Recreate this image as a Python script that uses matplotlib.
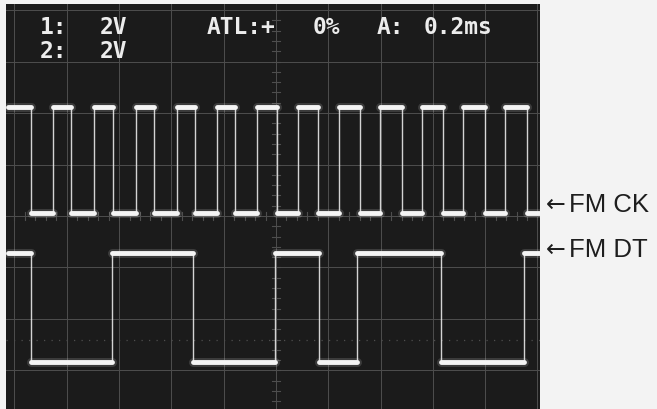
import matplotlib
matplotlib.use('Agg')
import matplotlib.pyplot as plt
import numpy as np

OUTPUT_FILENAME = 'out.png'

# time in ms from the left graticule line (0.2 ms/div), levels in divisions from centre
ck_rises = [0.147, 0.304, 0.465, 0.621, 0.774, 0.927, 1.084, 1.241, 1.398, 1.558, 1.715, 1.876]
ck_falls = [0.063, 0.216, 0.377, 0.533, 0.690, 0.843, 1.004, 1.161, 1.321, 1.482, 1.639, 1.799, 1.960]
ck_high = 2.12
ck_low = 0.06

dt_edges = [0.063, 0.373, 0.683, 0.996, 1.164, 1.310, 1.631, 1.948]
dt_high = -0.72
dt_low = -2.83

trace_start = -0.025
trace_end = 2.009

header_texts = ['1:', '2V', '2:', '2V', 'ATL:+', '0%', 'A:', '0.2ms']
labels = ['FM CK', 'FM DT']

FIG_W, FIG_H = 657, 410
BG = '#f3f3f3'
SCREEN = '#1b1b1b'
GRID = '#4e4e4e'
TRACE = '#f4f4f4'


def ck_segments():
    edges = sorted([(t, 'r') for t in ck_rises] + [(t, 'f') for t in ck_falls])
    level = ck_high
    t0 = trace_start
    segs = []
    for t, kind in edges:
        segs.append((t0, t, level))
        level = ck_low if kind == 'f' else ck_high
        t0 = t
    segs.append((t0, trace_end, level))
    return segs


def dt_segments():
    level = dt_high
    t0 = trace_start
    segs = []
    for t in dt_edges:
        segs.append((t0, t, level))
        level = dt_low if level == dt_high else dt_high
        t0 = t
    segs.append((t0, trace_end, level))
    return segs


def draw_trace(ax, segs):
    for i, (a, b, lv) in enumerate(segs):
        ax.plot([a, b], [lv, lv], color=TRACE, lw=6.5, alpha=0.15, solid_capstyle='round', zorder=3)
        ax.plot([a, b], [lv, lv], color=TRACE, lw=3.5, solid_capstyle='round', zorder=4)
        if i + 1 < len(segs):
            nxt = segs[i + 1][2]
            ax.plot([b, b], [lv, nxt], color=TRACE, lw=1.0, alpha=0.85, zorder=4)


def draw_graticule(ax):
    for t in np.arange(0, 2.01, 0.2):
        ax.axvline(t, color=GRID, lw=0.7, zorder=1)
    for d in range(-3, 5):
        ax.axhline(d, color=GRID, lw=0.7, zorder=1)
    ax.axhline(-2.4, color=GRID, lw=0.9, ls=(0, (1, 5)), zorder=1)
    # minor ticks on the centre lines
    for d in np.arange(-3.8, 4.2, 0.2):
        ax.plot([0.985, 1.015], [d, d], color=GRID, lw=0.8, zorder=1)
    for t in np.arange(0, 2.01, 0.04):
        ax.plot([t, t], [-0.07, 0.07], color=GRID, lw=0.8, zorder=1)


def main():
    fig = plt.figure(figsize=(FIG_W / 100, FIG_H / 100), dpi=100, facecolor=BG)
    ax = fig.add_axes([6 / FIG_W, 0, 534 / FIG_W, 405 / FIG_H])
    ax.set_facecolor(SCREEN)
    ax.set_xlim(-0.0325, 2.0096)
    ax.set_ylim(-3.748, 4.117)
    ax.set_xticks([])
    ax.set_yticks([])
    for s in ax.spines.values():
        s.set_visible(False)

    draw_graticule(ax)
    draw_trace(ax, ck_segments())
    draw_trace(ax, dt_segments())

    # header readout, pixel positions from the screen photo
    pos = [(40, 27), (100, 27), (40, 52), (100, 52), (207, 27), (313, 27), (377, 27), (424, 27)]
    for txt, (px, py) in zip(header_texts, pos):
        fig.text(px / FIG_W, 1 - py / FIG_H, txt, family='DejaVu Sans Mono', fontsize=16.5,
                 fontweight='bold', color='#ececec', va='center', ha='left')

    for txt, py in zip(labels, [205, 250]):
        fig.text(546 / FIG_W, 1 - py / FIG_H, '←', family='DejaVu Sans',
                 fontsize=17, color='#1e1e1e', va='center', ha='left')
        fig.text(569 / FIG_W, 1 - py / FIG_H, txt, family=['Liberation Sans', 'DejaVu Sans'],
                 fontsize=18.5, color='#1e1e1e', va='center', ha='left')

    fig.savefig(OUTPUT_FILENAME, facecolor=fig.get_facecolor())
    plt.close('all')


if __name__ == "__main__":
    main()
